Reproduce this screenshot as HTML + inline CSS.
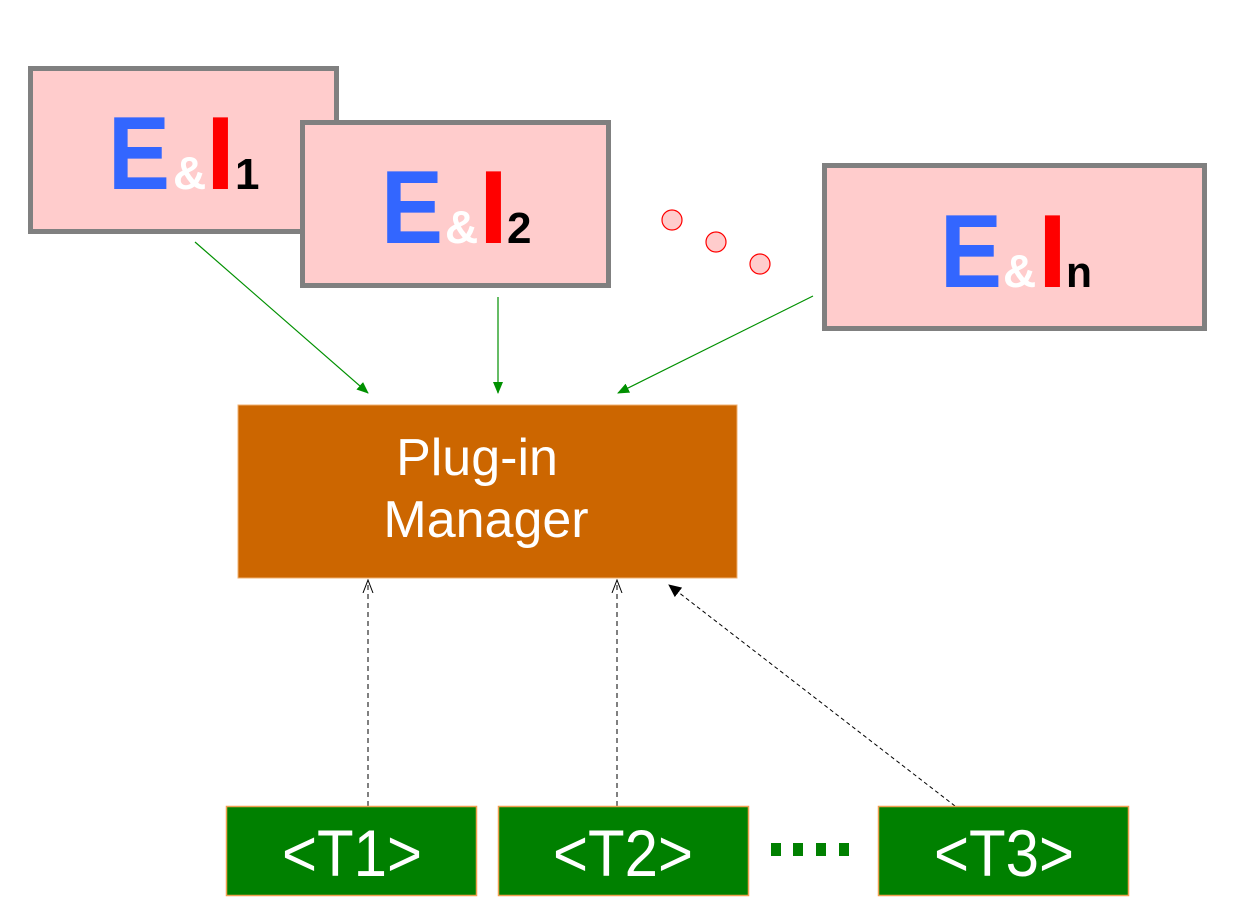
<!DOCTYPE html>
<html><head><meta charset="utf-8"><style>
html,body{margin:0;padding:0;background:#fff;}
svg{display:block;}
text{font-family:"Liberation Sans",Arial,sans-serif;}
</style></head><body>
<svg width="1260" height="914" viewBox="0 0 1260 914" xmlns="http://www.w3.org/2000/svg">
<defs>
<marker id="ga" markerWidth="12" markerHeight="12" refX="11" refY="6" orient="auto" markerUnits="userSpaceOnUse"><path d="M0,1 L12,6 L0,11 z" fill="#009000"/></marker>
<marker id="oa" markerWidth="14" markerHeight="14" refX="13" refY="7" orient="auto" markerUnits="userSpaceOnUse"><path d="M0,2 L13,7 L0,12" fill="none" stroke="#000" stroke-width="1"/></marker>
<marker id="fa" markerWidth="14" markerHeight="14" refX="12" refY="7" orient="auto" markerUnits="userSpaceOnUse"><path d="M0,1 L13,7 L0,13 z" fill="#000"/></marker>
</defs>
<rect x="30.5" y="68.5" width="306" height="163" fill="#ffcccc" stroke="#808080" stroke-width="5"/>
<text x="108" y="189" font-size="104" font-weight="bold" fill="#3366ff" textLength="62" lengthAdjust="spacingAndGlyphs">E</text>
<text x="173" y="189" font-size="46" font-weight="bold" fill="#fff">&amp;</text>
<text x="206" y="189" font-size="104" font-weight="bold" fill="#ff0000">I</text>
<text x="235" y="189" font-size="44" font-weight="bold" fill="#000">1</text>
<rect x="302.5" y="122.5" width="306" height="163" fill="#ffcccc" stroke="#808080" stroke-width="5"/>
<text x="381" y="243" font-size="104" font-weight="bold" fill="#3366ff" textLength="62" lengthAdjust="spacingAndGlyphs">E</text>
<text x="445" y="243" font-size="46" font-weight="bold" fill="#fff">&amp;</text>
<text x="479" y="243" font-size="104" font-weight="bold" fill="#ff0000">I</text>
<text x="507" y="243" font-size="44" font-weight="bold" fill="#000">2</text>
<circle cx="672" cy="220" r="10" fill="#ffcccc" stroke="#ff0000" stroke-width="1.2"/>
<circle cx="716" cy="242" r="10" fill="#ffcccc" stroke="#ff0000" stroke-width="1.2"/>
<circle cx="760" cy="264" r="10" fill="#ffcccc" stroke="#ff0000" stroke-width="1.2"/>
<rect x="824.5" y="165.5" width="380" height="163" fill="#ffcccc" stroke="#808080" stroke-width="5"/>
<text x="940" y="287" font-size="104" font-weight="bold" fill="#3366ff" textLength="62" lengthAdjust="spacingAndGlyphs">E</text>
<text x="1003" y="287" font-size="46" font-weight="bold" fill="#fff">&amp;</text>
<text x="1038" y="287" font-size="104" font-weight="bold" fill="#ff0000">I</text>
<text x="1066" y="287" font-size="44" font-weight="bold" fill="#000" textLength="26" lengthAdjust="spacingAndGlyphs">n</text>
<line x1="195" y1="242" x2="368" y2="393" stroke="#009000" stroke-width="1.2" marker-end="url(#ga)"/>
<line x1="498" y1="297" x2="498" y2="393" stroke="#009000" stroke-width="1.2" marker-end="url(#ga)"/>
<line x1="813" y1="296" x2="618" y2="393" stroke="#009000" stroke-width="1.2" marker-end="url(#ga)"/>
<rect x="238" y="405" width="499" height="173" fill="#cc6600" stroke="#f0b070" stroke-width="1"/>
<text x="477" y="475" font-size="52" fill="#fff" text-anchor="middle">Plug-in</text>
<text x="486" y="537" font-size="52" fill="#fff" text-anchor="middle">Manager</text>
<line x1="368" y1="806" x2="368" y2="580" stroke="#000" stroke-width="1" stroke-dasharray="5,4" marker-end="url(#oa)"/>
<line x1="617" y1="806" x2="617" y2="580" stroke="#000" stroke-width="1" stroke-dasharray="5,4" marker-end="url(#oa)"/>
<line x1="955" y1="806" x2="669" y2="585" stroke="#000" stroke-width="1" stroke-dasharray="4,3" marker-end="url(#fa)"/>
<rect x="226.5" y="806.5" width="250" height="89" fill="#008000" stroke="#f0a050" stroke-width="1.5"/>
<text x="282" y="876" font-size="66" fill="#fff" textLength="140" lengthAdjust="spacingAndGlyphs">&lt;T1&gt;</text>
<rect x="498.5" y="806.5" width="250" height="89" fill="#008000" stroke="#f0a050" stroke-width="1.5"/>
<text x="553" y="876" font-size="66" fill="#fff" textLength="140" lengthAdjust="spacingAndGlyphs">&lt;T2&gt;</text>
<rect x="878.5" y="806.5" width="250" height="89" fill="#008000" stroke="#f0a050" stroke-width="1.5"/>
<text x="934" y="876" font-size="66" fill="#fff" textLength="140" lengthAdjust="spacingAndGlyphs">&lt;T3&gt;</text>
<rect x="771" y="843" width="10" height="13" fill="#008000"/>
<rect x="793" y="843" width="10" height="13" fill="#008000"/>
<rect x="816" y="843" width="10" height="13" fill="#008000"/>
<rect x="839" y="843" width="10" height="13" fill="#008000"/>
</svg>
</body></html>
